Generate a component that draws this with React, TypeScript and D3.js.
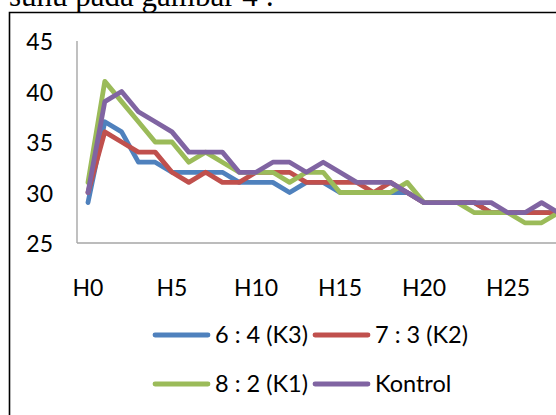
import React from "react";
import * as d3 from "d3";

// Day labels along the horizontal axis
const days = [
  "H0", "H1", "H2", "H3", "H4", "H5", "H6", "H7", "H8", "H9",
  "H10", "H11", "H12", "H13", "H14", "H15", "H16", "H17", "H18", "H19",
  "H20", "H21", "H22", "H23", "H24", "H25", "H26", "H27", "H28",
];
const dayTickLabels = ["H0", "H5", "H10", "H15", "H20", "H25"];
const tempTicks = [25, 30, 35, 40, 45];

// Temperature readings per treatment
const k3 = [29, 37, 36, 33, 33, 32, 32, 32, 32, 31, 31, 31, 30, 31, 31, 30, 30, 30, 30, 30, 29, 29, 29, 29, 28, 28, 28, 28, 28];
const k2 = [30, 36, 35, 34, 34, 32, 31, 32, 31, 31, 32, 32, 32, 31, 31, 31, 31, 30, 31, 30, 29, 29, 29, 29, 28, 28, 28, 28, 28];
const k1 = [31, 41, 39, 37, 35, 35, 33, 34, 33, 32, 32, 32, 31, 32, 32, 30, 30, 30, 30, 31, 29, 29, 29, 28, 28, 28, 27, 27, 28];
const kontrol = [30, 39, 40, 38, 37, 36, 34, 34, 34, 32, 32, 33, 33, 32, 33, 32, 31, 31, 31, 30, 29, 29, 29, 29, 29, 28, 28, 29, 28];

const seriesNames = ["6 : 4 (K3)", "7 : 3 (K2)", "8 : 2 (K1)", "Kontrol"];
const seriesValues = [k3, k2, k1, kontrol];
const seriesColors = ["#4F81BD", "#C0504D", "#9BBB59", "#8064A2"];

const W = 556;
const H = 415;
const FONT = "Lato, 'Open Sans', sans-serif";

export default function App() {
  const plotLeft = 77;
  const plotTop = 41;
  const plotBottom = 243;

  const x = d3
    .scalePoint<string>()
    .domain(days)
    .range([88, 88 + 16.8 * (days.length - 1)]);
  const y = d3.scaleLinear().domain([25, 45]).range([plotBottom, plotTop]);

  const line = d3
    .line<number>()
    .x((_, i) => x(days[i]) as number)
    .y((v) => y(v));

  // legend layout: two rows, two entries each
  const legendCols = [155, 315];
  const legendRows = [335, 384];

  return (
    <svg
      width={W}
      height={H}
      style={{ position: "fixed", left: 0, top: 0, background: "#fff", overflow: "hidden" }}
    >
      <rect x={0} y={0} width={W} height={H} fill="#fff" />
      <text
        x={9}
        y={6}
        fontFamily="'Liberation Serif', 'Times New Roman', serif"
        fontSize={31}
        fill="#000"
      >
        suhu pada gambar 4 :
      </text>

      {/* chart frame */}
      <path d={`M9.5,${H + 2} V12.5 H${W + 2}`} fill="none" stroke="#000" strokeWidth={1.6} />

      {/* axes */}
      <line x1={plotLeft} x2={plotLeft} y1={plotTop} y2={plotBottom} stroke="#a6a6a6" strokeWidth={1.4} />
      <line x1={plotLeft} x2={W + 2} y1={plotBottom} y2={plotBottom} stroke="#a6a6a6" strokeWidth={1.4} />

      {tempTicks.map((t) => (
        <text
          key={t}
          x={53}
          y={y(t)}
          textAnchor="end"
          dominantBaseline="central"
          fontFamily={FONT}
          fontSize={23}
          fill="#000"
        >
          {t}
        </text>
      ))}
      {dayTickLabels.map((d) => (
        <text
          key={d}
          x={x(d)}
          y={296}
          textAnchor="middle"
          fontFamily={FONT}
          fontSize={23}
          fill="#000"
        >
          {d}
        </text>
      ))}

      {/* series lines */}
      {seriesValues.map((vals, s) => (
        <path
          key={seriesNames[s]}
          d={line(vals) ?? ""}
          fill="none"
          stroke={seriesColors[s]}
          strokeWidth={4.8}
          strokeLinejoin="round"
          strokeLinecap="round"
        />
      ))}

      {/* legend */}
      {seriesNames.map((name, s) => {
        const lx = legendCols[s % 2];
        const ly = legendRows[Math.floor(s / 2)];
        return (
          <g key={name}>
            <line
              x1={lx}
              x2={lx + 53}
              y1={ly}
              y2={ly}
              stroke={seriesColors[s]}
              strokeWidth={4.8}
              strokeLinecap="round"
            />
            <text
              x={lx + 60}
              y={ly + 8}
              fontFamily={FONT}
              fontSize={23.5}
              fill="#000"
            >
              {name}
            </text>
          </g>
        );
      })}
    </svg>
  );
}
